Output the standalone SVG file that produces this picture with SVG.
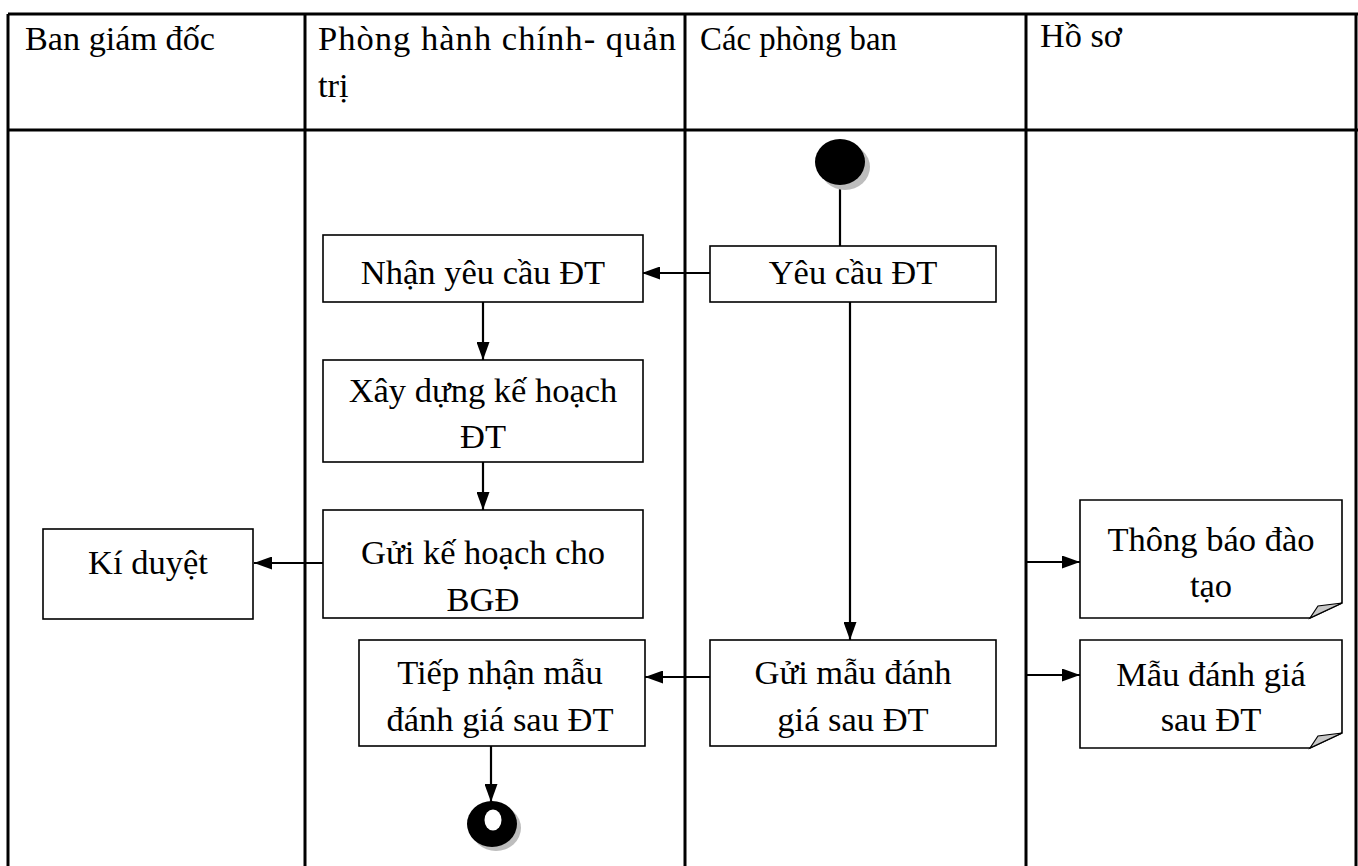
<svg xmlns="http://www.w3.org/2000/svg" width="1358" height="866" viewBox="0 0 1358 866">
  <style>
    .grid { stroke: #000; stroke-width: 3; fill: none; }
    .box { fill: #fff; stroke: #000; stroke-width: 1.6; }
    .note { fill: #fff; stroke: #000; stroke-width: 1.6; }
    .fold { fill: #c8c8c8; stroke: #000; stroke-width: 1.2; }
    .t { font-family: "Liberation Serif", "Times New Roman", serif; font-size: 34.5px; fill: #000; }
    .c { text-anchor: middle; }
    .edge { stroke: #000; stroke-width: 2.2; fill: none; marker-end: url(#arrow); }
    .plain { stroke: #000; stroke-width: 2.2; fill: none; }
  </style>
  <defs>
    <marker id="arrow" viewBox="0 0 18 13" refX="18" refY="6.5" markerWidth="18" markerHeight="13" markerUnits="userSpaceOnUse" orient="auto">
      <path d="M0,0 L18,6.5 L0,13 Z" fill="#000"/>
    </marker>
  </defs>
  <rect width="1358" height="866" fill="#fff"/>

  <!-- swimlane table -->
  <g id="lanes">
    <path class="grid" d="M8,14 H1358 M8,130 H1358 M8,14 V866 M305,14 V866 M685,14 V866 M1026,14 V866 M1356,14 V866"/>
    <text class="t" x="25" y="50" textLength="190" lengthAdjust="spacingAndGlyphs">Ban giám đốc</text>
    <text class="t" x="318" y="50" textLength="358" lengthAdjust="spacing">Phòng hành chính- quản</text>
    <text class="t" x="318" y="97">trị</text>
    <text class="t" x="700" y="50" textLength="197" lengthAdjust="spacingAndGlyphs">Các phòng ban</text>
    <text class="t" x="1040" y="47" textLength="82" lengthAdjust="spacingAndGlyphs">Hồ sơ</text>
  </g>

  <!-- connectors -->
  <g id="connectors">
    <path class="plain" d="M840,184 V246"/>
    <path class="edge" d="M710,273 H642"/>
    <path class="edge" d="M483,302 V360"/>
    <path class="edge" d="M483,462 V510"/>
    <path class="edge" d="M323,563 H254"/>
    <path class="edge" d="M850,302 V640"/>
    <path class="edge" d="M710,677 H645"/>
    <path class="edge" d="M491,746 V802"/>
    <path class="edge" d="M1026,562 H1080"/>
    <path class="edge" d="M1026,675 H1080"/>
  </g>

  <!-- start node -->
  <g id="start">
    <ellipse cx="845" cy="167" rx="25" ry="23" fill="#bdbdbd"/>
    <ellipse cx="840" cy="162" rx="25" ry="23" fill="#000"/>
  </g>

  <g id="yeu-cau">
    <rect class="box" x="710" y="246" width="286" height="56"/>
    <text class="t c" x="853" y="284">Yêu cầu ĐT</text>
  </g>

  <g id="nhan-yeu-cau">
    <rect class="box" x="323" y="235" width="320" height="67"/>
    <text class="t c" x="483" y="284">Nhận yêu cầu ĐT</text>
  </g>

  <g id="xay-dung">
    <rect class="box" x="323" y="360" width="320" height="102"/>
    <text class="t c" x="483" y="402">Xây dựng kế hoạch</text>
    <text class="t c" x="483" y="448">ĐT</text>
  </g>

  <g id="gui-ke-hoach">
    <rect class="box" x="323" y="510" width="320" height="108"/>
    <text class="t c" x="483" y="564">Gửi kế hoạch cho</text>
    <text class="t c" x="483" y="611">BGĐ</text>
  </g>

  <g id="ki-duyet">
    <rect class="box" x="43" y="529" width="210" height="90"/>
    <text class="t c" x="148" y="574">Kí duyệt</text>
  </g>

  <g id="tiep-nhan">
    <rect class="box" x="359" y="640" width="286" height="106"/>
    <text class="t c" x="500" y="684">Tiếp nhận mẫu</text>
    <text class="t c" x="500" y="731">đánh giá sau ĐT</text>
  </g>

  <g id="gui-mau">
    <rect class="box" x="710" y="640" width="286" height="106"/>
    <text class="t c" x="853" y="684">Gửi mẫu đánh</text>
    <text class="t c" x="853" y="731">giá sau ĐT</text>
  </g>

  <!-- end node -->
  <g id="end">
    <ellipse cx="496" cy="828" rx="25" ry="23" fill="#bdbdbd"/>
    <ellipse cx="492" cy="824" rx="25" ry="23" fill="#000"/>
    <ellipse cx="493" cy="820" rx="8.5" ry="10.5" fill="#fff"/>
  </g>

  <g id="thong-bao">
    <path class="note" d="M1080,500 H1342 V603 L1310,618 H1080 Z"/>
    <path class="fold" d="M1342,603 L1310,618 L1318,606 Z"/>
    <text class="t c" x="1211" y="551">Thông báo đào</text>
    <text class="t c" x="1211" y="597">tạo</text>
  </g>

  <g id="mau-danh-gia">
    <path class="note" d="M1080,640 H1342 V733 L1310,748 H1080 Z"/>
    <path class="fold" d="M1342,733 L1310,748 L1318,736 Z"/>
    <text class="t c" x="1211" y="686">Mẫu đánh giá</text>
    <text class="t c" x="1211" y="731">sau ĐT</text>
  </g>
</svg>
